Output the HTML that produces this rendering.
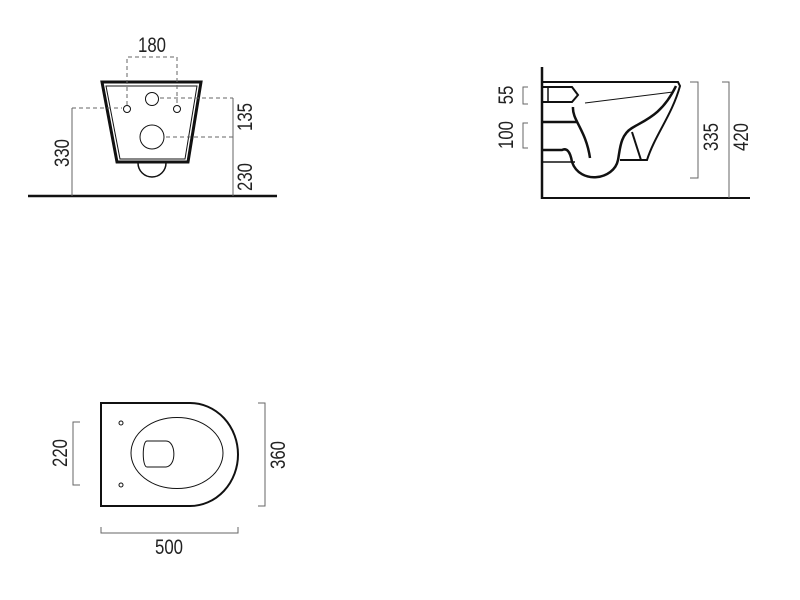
<!DOCTYPE html>
<html><head><meta charset="utf-8"><style>
html,body{margin:0;padding:0;background:#fff;width:800px;height:600px;overflow:hidden}
svg{display:block}
text{font-family:"Liberation Sans",sans-serif;font-size:21px;fill:#222}
</style></head><body>
<svg width="800" height="600" viewBox="0 0 800 600" xmlns="http://www.w3.org/2000/svg">
<g fill="none" stroke="#111">
<!-- FRONT VIEW -->
<line x1="28" y1="196" x2="277" y2="196" stroke-width="2.5"/>
<path d="M102 82 L201 82 L188 162 L117 162 Z" stroke-width="3"/>
<path d="M106 86 L197 86 L185 159 L120 159 Z" stroke-width="1"/>
<circle cx="127" cy="109" r="3.5" stroke-width="1"/>
<circle cx="177" cy="109" r="3.5" stroke-width="1"/>
<circle cx="152" cy="99" r="6.5" stroke-width="1"/>
<circle cx="152" cy="137" r="12" stroke-width="1"/>
<path d="M138 163 A14 14 0 0 0 166 163" stroke-width="1.5"/>
<g stroke="#666" stroke-width="1">
<path d="M127 105 V57 H177 V105" stroke-dasharray="4,3"/>
<line x1="72" y1="108" x2="72" y2="196"/>
<line x1="72" y1="108" x2="122" y2="108" stroke-dasharray="4,3"/>
<line x1="233" y1="98" x2="233" y2="196"/>
<line x1="160" y1="98" x2="233" y2="98" stroke-dasharray="4,3"/>
<line x1="166" y1="137" x2="233" y2="137" stroke-dasharray="4,3"/>
</g>
<!-- SIDE VIEW -->
<line x1="542" y1="67" x2="542" y2="199" stroke-width="2.5"/>
<line x1="542" y1="198" x2="750" y2="198" stroke-width="2"/>
<path d="M542 82 H678 L680 86 C672 115 655 135 647 160 H620" stroke-width="2"/>
<line x1="632" y1="132" x2="641" y2="160" stroke-width="2"/>
<path d="M676 86 C662 115 645 120 632 128 C620 135 620 150 618 160 C614 180 580 185 572 162 C570 150 566 148 562 150 H542" stroke-width="2.5"/>
<path d="M573 107 C572 120 586 130 590 158" stroke-width="2.5"/>
<line x1="585" y1="103" x2="673" y2="92" stroke-width="1"/>
<path d="M542 87 H572 L578 95 L572 102 H542" stroke-width="2"/>
<path d="M548 87 V102" stroke-width="1.5"/>
<path d="M542 122 H577" stroke-width="2.5"/>
<path d="M542 162 H575" stroke-width="1.5"/>
<g stroke="#666" stroke-width="1">
<path d="M690 82 H698 V178 H690"/>
<path d="M722 82 H729 V198"/>
<path d="M528 87 H523 V104 H528"/>
<path d="M528 123 H523 V148 H528"/>
</g>
<!-- TOP VIEW -->
<path d="M190 403 H101 V506 H190 A48 51.5 0 0 0 190 403" stroke-width="2"/>
<ellipse cx="177" cy="453" rx="46" ry="35.5" stroke-width="1"/>
<path d="M147 441 H166 C176 441 177 466 166 467 H147 C142 467 142 441 147 441 Z" stroke-width="1"/>
<circle cx="121" cy="423" r="2" stroke-width="1"/>
<circle cx="121" cy="485" r="2" stroke-width="1"/>
<g stroke="#666" stroke-width="1">
<path d="M80 422 H73 V485 H80"/>
<path d="M258 403 H265 V506 H258"/>
<path d="M101 527 V533 H238 V527"/>
</g>
</g>
<g>
<text transform="translate(152,52) scale(0.8,1)" text-anchor="middle">180</text>
<text transform="translate(69,153) rotate(-90) scale(0.8,1)" text-anchor="middle">330</text>
<text transform="translate(252,117) rotate(-90) scale(0.8,1)" text-anchor="middle">135</text>
<text transform="translate(252,177) rotate(-90) scale(0.8,1)" text-anchor="middle">230</text>
<text transform="translate(513,95) rotate(-90) scale(0.8,1)" text-anchor="middle">55</text>
<text transform="translate(513,135) rotate(-90) scale(0.8,1)" text-anchor="middle">100</text>
<text transform="translate(718,137) rotate(-90) scale(0.8,1)" text-anchor="middle">335</text>
<text transform="translate(748,137) rotate(-90) scale(0.8,1)" text-anchor="middle">420</text>
<text transform="translate(67,453) rotate(-90) scale(0.8,1)" text-anchor="middle">220</text>
<text transform="translate(285,455) rotate(-90) scale(0.8,1)" text-anchor="middle">360</text>
<text transform="translate(169,554) scale(0.8,1)" text-anchor="middle">500</text>
</g>
</svg>
</body></html>
